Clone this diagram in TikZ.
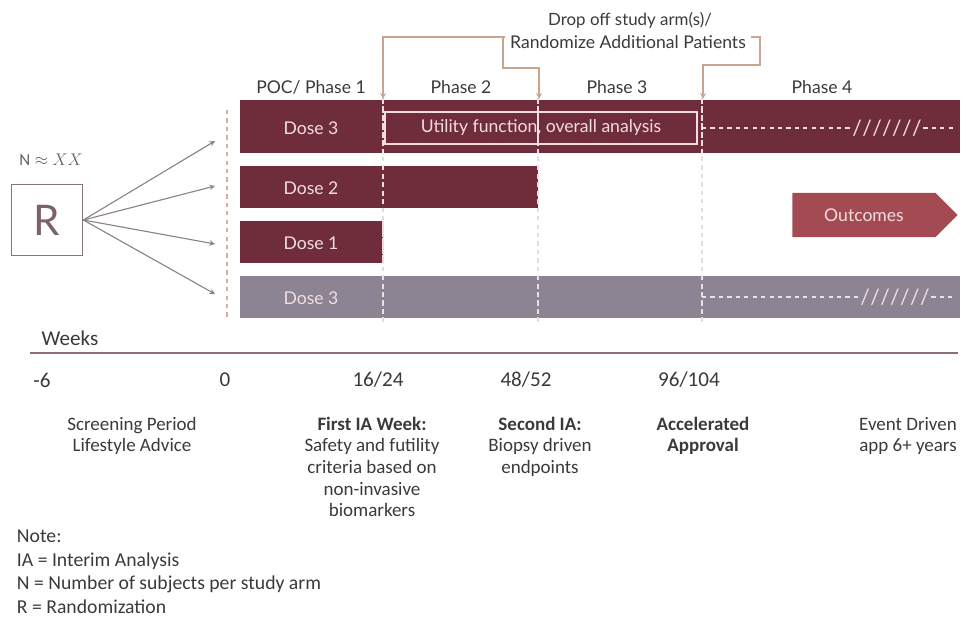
\documentclass[tikz,border=0pt]{standalone}
\usepackage{amsmath}
\usepackage{fontspec}
\setmainfont{Carlito}
\newfontfamily\gillfont{Lato}
\usetikzlibrary{positioning, arrows, shapes.symbols}

\definecolor{doseRed}{HTML}{6F2C3B}
\definecolor{doseGray}{HTML}{8C8493}
\definecolor{outRed}{HTML}{A44A52}
\definecolor{barText}{HTML}{F3DDE0}
\definecolor{bracketTan}{HTML}{C9A48E}
\definecolor{armGray}{HTML}{8C8286}
\definecolor{boxMauve}{HTML}{8A7478}
\definecolor{rMauve}{HTML}{7A6268}
\definecolor{axisMauve}{HTML}{8E6E75}
\definecolor{zeroLine}{HTML}{DDAA9C}
\definecolor{gridGray}{HTML}{E3DEDD}
\definecolor{ink}{HTML}{3A3A3A}

\newcommand{\cutmarks}{/\kern0.3pt/\kern0.3pt/\kern0.3pt/\kern0.3pt/\kern0.3pt/\kern0.3pt/}

\tikzset{
    >=stealth,
    redbar/.style={fill=doseRed},
    graybar/.style={fill=doseGray},
    dose/.style={text=barText, font=\gillfont\fontsize{12.5}{15}\selectfont},
    phase/.style={text=ink, font=\gillfont\fontsize{12.5}{15}\selectfont},
    cut/.style={text=barText, inner xsep=1pt, font=\gillfont\fontsize{15}{18}\selectfont},
    arm/.style={->, draw=armGray, line width=0.8pt},
    bracket/.style={->, draw=bracketTan, line width=0.9pt},
    gridline/.style={draw=gridGray, dashed, line width=0.9pt},
    whitedash/.style={draw=barText, dashed, line width=0.9pt},
    tick/.style={text=ink, font=\fontsize{15}{18}\selectfont},
    milestone/.style={align=center, anchor=north, text=ink, font=\fontsize{13.5}{15.4}\selectfont},
}

\begin{document}
\begin{tikzpicture}[x=0.025cm, y=-0.025cm]
    \useasboundingbox (0,0) rectangle (977,617);

    % dose arms
    \fill[redbar] (240,100) rectangle (960,153);
    \fill[redbar] (240,166) rectangle (538,208);
    \fill[redbar] (240,221) rectangle (383,263);
    \fill[graybar] (240,276) rectangle (960,318);

    \draw[dashed, draw=zeroLine, line width=0.9pt] (227,110) -- (227,318);
    \foreach \x in {383,538,702}
        \draw[gridline] (\x,98) -- (\x,325);
    \foreach \x in {383,538,702}
        \draw[whitedash] (\x,100) -- (\x,153);
    \draw[whitedash] (383,166) -- (383,208);
    \draw[whitedash] (538,166) -- (538,208);
    \draw[whitedash] (383,221) -- (383,263);
    \foreach \x in {383,538,702}
        \draw[whitedash] (\x,276) -- (\x,318);

    \node[dose] (dose3) at (311,128) {Dose 3};
    \node[dose] (dose2) at (311,188) {Dose 2};
    \node[dose] (dose1) at (311,243) {Dose 1};
    \node[dose] (dose3b) at (311,298) {Dose 3};

    \node[dose, draw=barText, line width=0.8pt, minimum width=7.8cm, minimum height=0.8cm]
        (utility) at (541,128) {Utility function, overall analysis};
    \draw[gridline, draw=barText] (538,112) -- (538,145);

    % open-ended follow up
    \node[cut] (cut1) at (887,128) {\cutmarks};
    \node[cut] (cut2) at (895,297) {\cutmarks};
    \draw[whitedash, line width=0.8pt] (702,128) -- (cut1.west);
    \draw[whitedash, line width=0.8pt] (cut1.east) -- (955,128);
    \draw[whitedash, line width=0.8pt] (702,297) -- (cut2.west);
    \draw[whitedash, line width=0.8pt] (cut2.east) -- (955,297);

    \node[signal, signal to=east, signal pointer angle=90, fill=outRed, text=barText,
        font=\gillfont\fontsize{12.5}{15}\selectfont, minimum width=4.125cm, minimum height=1.1cm,
        inner xsep=0pt] (outcomes) at (864,215) {Outcomes};

    % phases
    \node[phase] (poc) at (311,87) {POC/ Phase 1};
    \node[phase] (ph2) at (461,87) {Phase 2};
    \node[phase] (ph3) at (617,87) {Phase 3};
    \node[phase] (ph4) at (822,87) {Phase 4};

    \node[phase, font=\gillfont\fontsize{12}{14}\selectfont] (drop1) at (630,20) {Drop off study arm(s)/};
    \node[phase] (drop2) at (628,42) {Randomize Additional Patients};
    \coordinate (ia1) at (383,99);
    \coordinate (ia2) at (539,99);
    \coordinate (ia3) at (703,99);
    \draw[bracket] (drop2.west |- 0,37) -| (ia1);
    \draw[bracket] (503,37) |- (ia2 |- 0,68) -- (ia2);
    \draw[bracket] (drop2.east |- 0,37) -| (760,65) -| (ia3);

    % randomization
    \node[draw=boxMauve, line width=1.2pt, minimum size=1.775cm, text=rMauve,
        font=\gillfont\fontsize{30}{34}\selectfont] (R) at (47,220) {R};
    \node[text=ink!80, font=\fontsize{12}{14}\selectfont] (N) at (51,160) {$\mathrm{N}\approx XX$};
    \coordinate (a1) at (215,141);
    \coordinate (a2) at (215,186);
    \coordinate (a3) at (215,244);
    \coordinate (a4) at (215,294);
    \foreach \t in {a1,a2,a3,a4}
        \draw[arm] (R.east) -- (\t);

    % time line
    \node[tick] (weeks) at (70,338) {Weeks};
    \draw[draw=axisMauve, line width=1.5pt] (30,353) -- (958,353);
    \node[tick] (w6) at (42,380) {-6};
    \node[tick] (w0) at (225,380) {0};
    \node[tick] (w16) at (378,380) {16/24};
    \node[tick] (w48) at (526,380) {48/52};
    \node[tick] (w96) at (689,380) {96/104};

    \node[milestone] (screen) at (132,412) {Screening Period\\Lifestyle Advice};
    \node[milestone] (first) at (372,412) {\textbf{First IA Week:}\\Safety and futility\\criteria based on\\non-invasive\\biomarkers};
    \node[milestone] (second) at (540,412) {\textbf{Second IA:}\\Biopsy driven\\endpoints};
    \node[milestone] (accel) at (703,412) {\textbf{Accelerated}\\\textbf{Approval}};
    \node[milestone] (event) at (908,412) {Event Driven\\app 6+ years};

    \node[milestone, anchor=north west, align=left, font=\fontsize{14}{16.8}\selectfont]
        (note) at (12,525) {Note:\\IA = Interim Analysis\\N = Number of subjects per study arm\\R = Randomization};
\end{tikzpicture}
\end{document}
